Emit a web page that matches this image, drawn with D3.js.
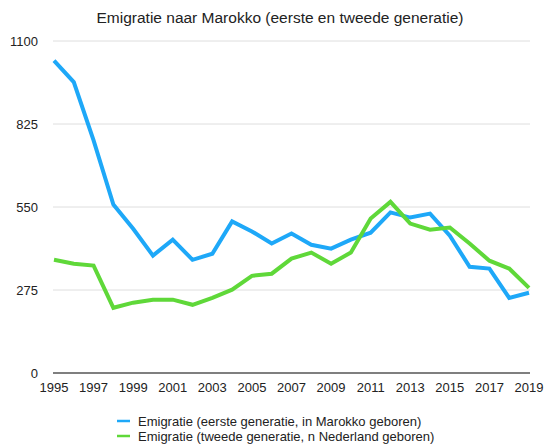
<!DOCTYPE html>
<html>
<head>
<meta charset="utf-8">
<script src="https://cdn.jsdelivr.net/npm/d3@7"></script>
<style>
  body { margin: 0; background: #fff; }
  svg text { font-family: "Liberation Sans", Arial, Helvetica, sans-serif; fill: #222; }
</style>
</head>
<body>
<div id="app"></div>
<script>
// Data
const years = d3.range(1995, 2020);
const eersteGeneratie = [1035, 964, 771, 558, 478, 389, 442, 375, 395, 502, 469, 429, 462, 425, 412, 442, 465, 532, 515, 528, 455, 352, 346, 249, 266];
const tweedeGeneratie = [375, 362, 356, 216, 233, 243, 243, 226, 249, 276, 322, 329, 379, 399, 362, 399, 512, 567, 495, 475, 482, 429, 372, 346, 282];
const yTicks = [0, 275, 550, 825, 1100];
const xTicks = d3.range(1995, 2020, 2);
const seriesNames = [
  "Emigratie (eerste generatie, in Marokko geboren)",
  "Emigratie (tweede generatie, n Nederland geboren)"
];
const colors = ["#1ea8f8", "#5fd839"];

const width = 545, height = 445;
const svg = d3.select("#app").append("svg")
  .attr("width", width)
  .attr("height", height);

const x = d3.scaleLinear().domain([1995, 2019]).range([54, 529]);
const y = d3.scaleLinear().domain([0, 1100]).range([373, 41]);

// Title
svg.append("text")
  .attr("x", 280).attr("y", 23)
  .attr("text-anchor", "middle")
  .style("font-size", "15.5px")
  .text("Emigratie naar Marokko (eerste en tweede generatie)");

// Gridlines
svg.append("g")
  .selectAll("line")
  .data(yTicks.filter(d => d > 0))
  .join("line")
  .attr("x1", 53).attr("x2", 530)
  .attr("y1", d => y(d)).attr("y2", d => y(d))
  .attr("stroke", "#dedede")
  .attr("stroke-width", 1);

// Y labels
svg.append("g")
  .selectAll("text")
  .data(yTicks)
  .join("text")
  .attr("x", 38)
  .attr("y", d => y(d) + 5)
  .attr("text-anchor", "end")
  .style("font-size", "13px")
  .text(d => d);

// Baseline
svg.append("line")
  .attr("x1", 53).attr("x2", 530)
  .attr("y1", y(0)).attr("y2", y(0))
  .attr("stroke", "#555")
  .attr("stroke-width", 1.5);

// X labels
svg.append("g")
  .selectAll("text")
  .data(xTicks)
  .join("text")
  .attr("x", d => x(d))
  .attr("y", 392)
  .attr("text-anchor", "middle")
  .style("font-size", "13px")
  .text(d => d);

// Lines
const line = d3.line()
  .x((d, i) => x(years[i]))
  .y(d => y(d));

[eersteGeneratie, tweedeGeneratie].forEach((series, i) => {
  svg.append("path")
    .datum(series)
    .attr("fill", "none")
    .attr("stroke", colors[i])
    .attr("stroke-width", 4)
    .attr("stroke-linejoin", "miter")
    .attr("d", line);
});

// Legend
const legend = svg.append("g");
seriesNames.forEach((name, i) => {
  const cy = 421 + i * 15;
  legend.append("line")
    .attr("x1", 117).attr("x2", 130)
    .attr("y1", cy).attr("y2", cy)
    .attr("stroke", colors[i])
    .attr("stroke-width", 2.5);
  legend.append("text")
    .attr("x", 138)
    .attr("y", cy + 4.5)
    .style("font-size", "13px")
    .text(name);
});
</script>
</body>
</html>
